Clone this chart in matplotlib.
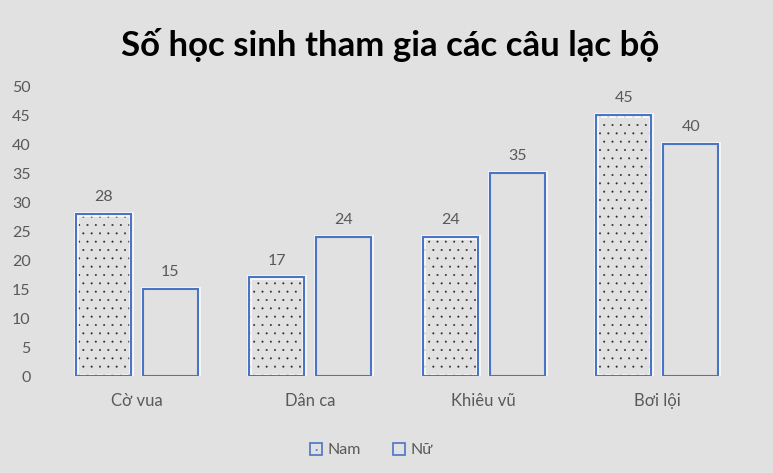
import matplotlib
matplotlib.use("Agg")
import matplotlib.pyplot as plt
import numpy as np
import matplotlib.patheffects as pe
from matplotlib.patches import Patch

categories = ["Cờ vua", "Dân ca", "Khiêu vũ", "Bơi lội"]
nam = [28, 17, 24, 45]
nu = [15, 24, 35, 40]
series_names = ["Nam", "Nữ"]
yticks = [0, 5, 10, 15, 20, 25, 30, 35, 40, 45, 50]

BG = "#e1e1e1"
BLUE = "#4a74c5"
TXT = "#595959"

plt.rcParams['font.family'] = ['Lato', 'DejaVu Sans']
plt.rcParams['hatch.linewidth'] = 0.2

fig = plt.figure(figsize=(7.73, 4.73), dpi=100, facecolor=BG)
ax = fig.add_axes([50/773, 1-376/473, 694/773, 290/473], facecolor=BG)

x = np.arange(len(categories))
w = 0.316
off = 0.193

glow = [pe.Stroke(linewidth=3.5, foreground="white", alpha=0.8), pe.Normal()]

# Nam: dotted fill then blue outline
ax.bar(x - off, nam, w, color=BG, edgecolor="#2a2a2a", hatch="..", linewidth=0, zorder=2)
b1 = ax.bar(x - off, nam, w, fill=False, edgecolor=BLUE, linewidth=1.5, zorder=3)
b2 = ax.bar(x + off, nu, w, color=BG, edgecolor=BLUE, linewidth=1.5, zorder=3)
for b in list(b1) + list(b2):
    b.set_path_effects(glow)

for xi, v in zip(x - off, nam):
    ax.text(xi, v + 1.7, str(v), ha="center", va="bottom", fontsize=11.5, color=TXT)
for xi, v in zip(x + off, nu):
    ax.text(xi, v + 1.7, str(v), ha="center", va="bottom", fontsize=11.5, color=TXT)

ax.set_xlim(-0.5, len(categories) - 0.5)
ax.set_ylim(0, 50)
ax.set_yticks(yticks)
ax.set_yticklabels([str(t) for t in yticks], fontsize=11.5, color=TXT)
ax.set_xticks(x)
ax.set_xticklabels(categories, fontsize=12, color=TXT)
ax.tick_params(axis="both", length=0)
ax.tick_params(axis="y", pad=14)
ax.tick_params(axis="x", pad=12)
for s in ax.spines.values():
    s.set_visible(False)

fig.text(0.505, 1-45/473, "Số học sinh tham gia các câu lạc bộ", ha="center", va="center",
         fontsize=25, fontweight="bold", color="black")

handles = [Patch(facecolor=BG, edgecolor=BLUE, hatch="..", linewidth=1.2),
           Patch(facecolor=BG, edgecolor=BLUE, linewidth=1.2)]
leg = fig.legend(handles, series_names, loc="center", bbox_to_anchor=(0.48, 1-450/473),
                 ncol=2, frameon=False, fontsize=11.5, handlelength=0.8, handleheight=0.8,
                 handletextpad=0.3, columnspacing=2.0, labelcolor=TXT)

fig.savefig("out.png", dpi=100, facecolor=BG)
